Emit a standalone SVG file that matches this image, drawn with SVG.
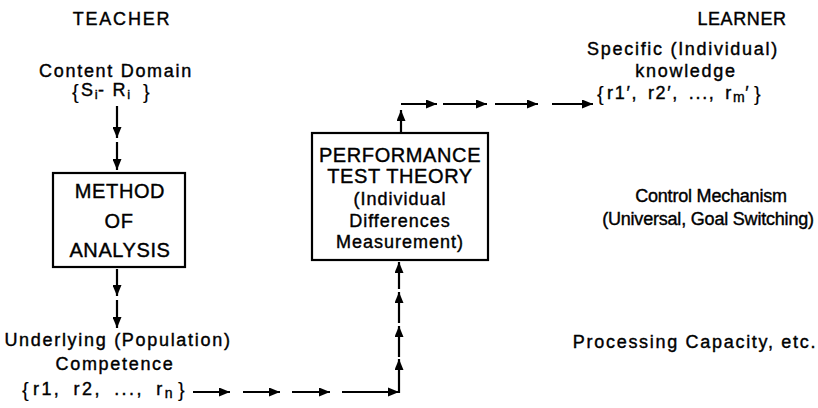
<svg xmlns="http://www.w3.org/2000/svg" width="818" height="408" viewBox="0 0 818 408">
<defs>
<style>
text{font-family:"Liberation Sans",Arial,sans-serif;fill:#000;stroke:#000;stroke-width:0.4;}
.m{text-anchor:middle;}
.t{font-size:18px;letter-spacing:1.7px;}
.n{font-size:18px;letter-spacing:-0.2px;}
.h{font-size:18px;letter-spacing:1.8px;}
.b{font-size:20px;letter-spacing:0.6px;}
.bt{font-size:18px;letter-spacing:1px;}
.br{font-size:20px;stroke-width:0.15;letter-spacing:0;}
.s{font-size:13px;letter-spacing:0.5px;}
.box{fill:#fff;stroke:#000;stroke-width:2.2;}
.c{fill:none;stroke:#000;stroke-width:2.2;}
.ca{fill:none;stroke:#000;stroke-width:2.2;marker-end:url(#ah);}
</style>
<marker id="ah" markerUnits="userSpaceOnUse" markerWidth="12" markerHeight="9" refX="11" refY="4.5" orient="auto">
<path d="M0,0 L11,4.5 L0,9 z" fill="#000"/>
</marker>
</defs>
<rect width="818" height="408" fill="#fff"/>

<g id="teacher-label"><text class="h m" x="122" y="25">TEACHER</text></g>
<g id="learner-label"><text class="m" x="742" y="25" style="font-size:18px;letter-spacing:0.6px">LEARNER</text></g>

<g id="content-domain">
<text class="t m" x="116" y="76.5">Content Domain</text>
<text class="br" x="72" y="98.5">{</text>
<text class="t" x="81" y="96">S<tspan class="s" dy="3">i</tspan><tspan dy="-3">- R</tspan><tspan class="s" dy="3">i</tspan></text>
<text class="br" x="143" y="98.5">}</text>
</g>

<g id="method-of-analysis">
<rect class="box" x="53" y="173" width="132" height="94"/>
<text class="b m" x="120" y="198">METHOD</text>
<text class="b m" x="119" y="228">OF</text>
<text class="b m" x="120" y="257">ANALYSIS</text>
</g>

<g id="underlying-competence">
<text class="t m" x="118" y="346">Underlying (Population)</text>
<text class="t m" x="115" y="370">Competence</text>
<text class="br" x="22" y="397">{</text>
<text class="t" x="33" y="395" style="letter-spacing:2.4px;word-spacing:5px">r1, r2, ..., r<tspan class="s" dy="3" style="font-size:14px">n</tspan></text>
<text class="br" x="178" y="397">}</text>
</g>

<g id="performance-test-theory">
<rect class="box" x="312" y="133" width="176" height="127"/>
<text class="b m" x="400" y="162">PERFORMANCE</text>
<text class="b m" x="400" y="183">TEST THEORY</text>
<text class="bt m" x="400" y="205">(Individual</text>
<text class="bt m" x="400" y="227">Differences</text>
<text class="bt m" x="400" y="248">Measurement)</text>
</g>

<g id="specific-knowledge">
<text class="t m" x="683" y="55">Specific (Individual)</text>
<text class="t m" x="686" y="77">knowledge</text>
<text class="br" x="597" y="101">{</text>
<text class="t" x="607" y="99" style="word-spacing:3px">r1′, r2′, ..., r<tspan class="s" dy="3" style="font-size:14px">m</tspan><tspan dy="-3">′</tspan></text>
<text class="br" x="754" y="101">}</text>
</g>

<g id="control-mechanism">
<text class="n m" x="711" y="202">Control Mechanism</text>
<text class="n m" x="708" y="225">(Universal, Goal Switching)</text>
</g>

<g id="processing-capacity">
<text class="t m" x="695" y="348">Processing Capacity, etc.</text>
</g>

<g id="connectors">
<line class="ca" x1="117" y1="106" x2="117" y2="138"/>
<line class="ca" x1="117" y1="142" x2="117" y2="170"/>
<line class="ca" x1="117" y1="269" x2="117" y2="296"/>
<line class="ca" x1="117" y1="300" x2="117" y2="328"/>
<line class="ca" x1="193" y1="392" x2="230" y2="392"/>
<line class="ca" x1="243" y1="392" x2="280" y2="392"/>
<line class="ca" x1="292" y1="392" x2="330" y2="392"/>
<line class="c" x1="342" y1="392" x2="399" y2="392"/>
<polygon points="388,387.5 399,392 388,396.5" fill="#000"/>
<line class="ca" x1="399" y1="393" x2="399" y2="359"/>
<line class="ca" x1="399" y1="357" x2="399" y2="326"/>
<line class="ca" x1="399" y1="323" x2="399" y2="292"/>
<line class="ca" x1="399" y1="289" x2="399" y2="262"/>
<line class="ca" x1="401" y1="133" x2="401" y2="110"/>
<line class="ca" x1="401" y1="104" x2="437" y2="104"/>
<line class="ca" x1="443" y1="104" x2="487" y2="104"/>
<line class="ca" x1="495" y1="104" x2="538" y2="104"/>
<line class="ca" x1="552" y1="104" x2="593" y2="104"/>
</g>
</svg>
